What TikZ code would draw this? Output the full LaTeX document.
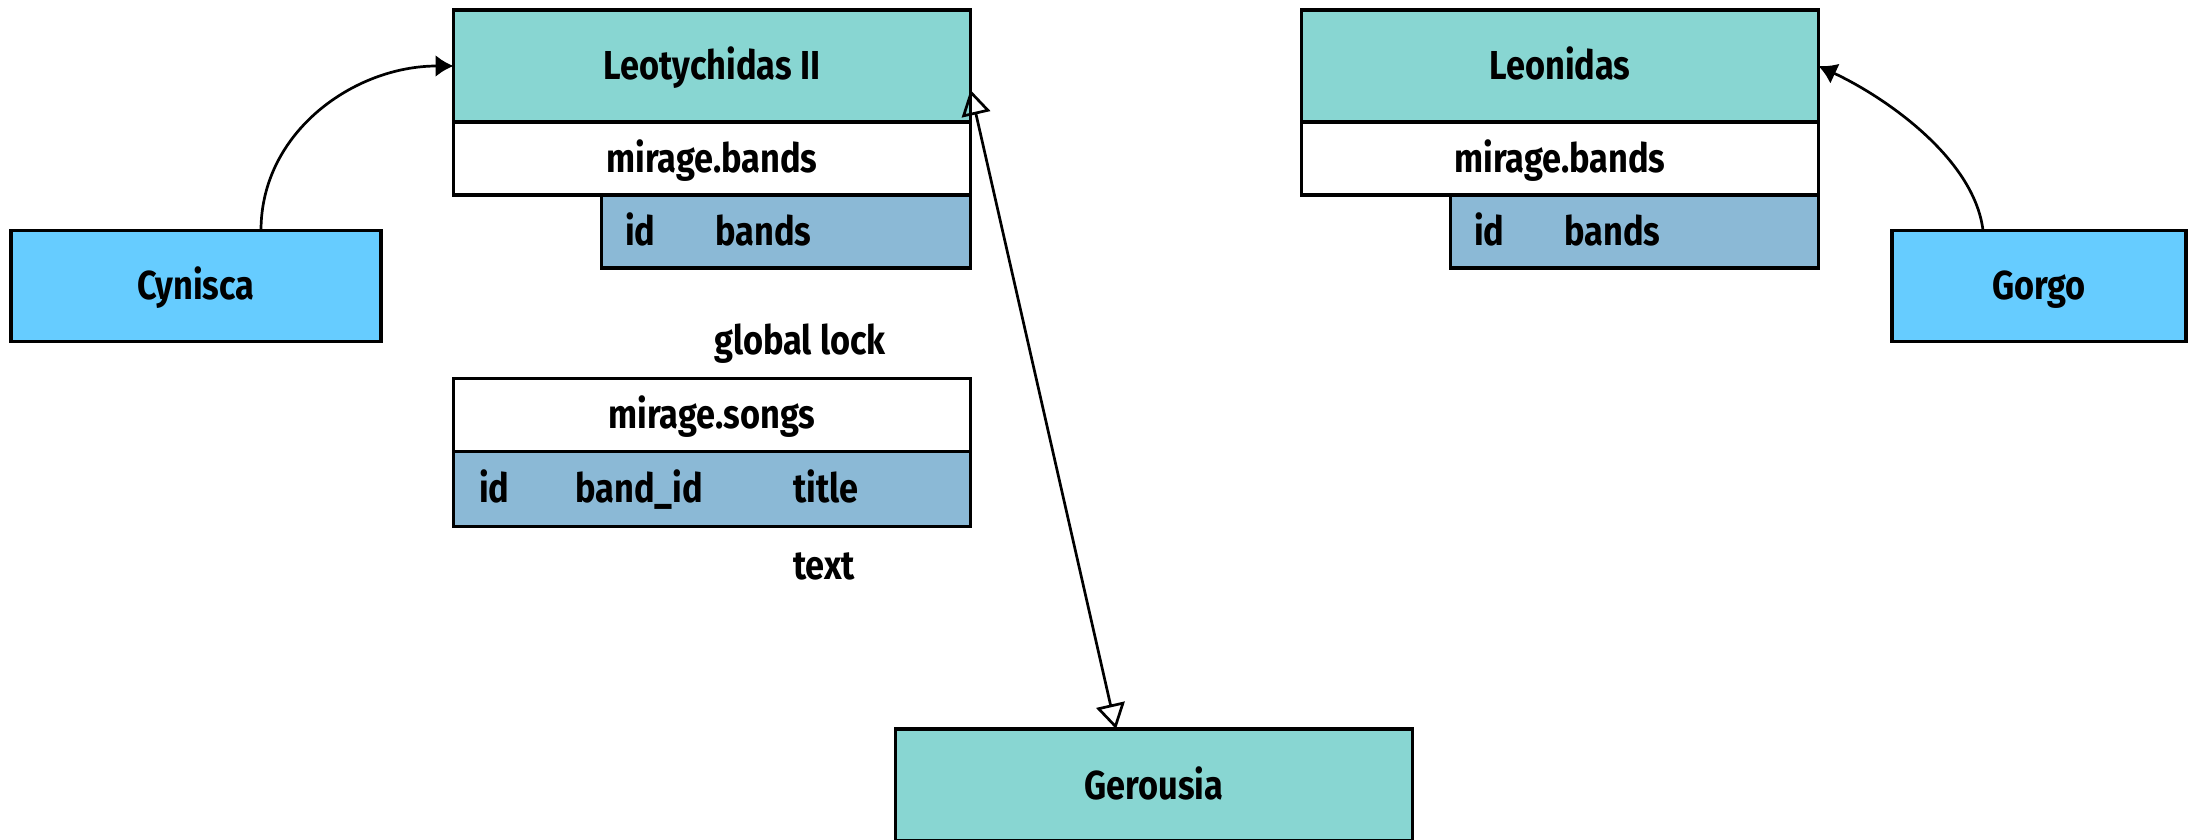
\documentclass[tikz,border=0pt]{standalone}
\usepackage{fontspec}
\setmainfont{Fira Sans}[FakeStretch=0.85]
\usetikzlibrary{positioning,arrows.meta}
\definecolor{tealhead}{HTML}{88D6D2}
\definecolor{fieldblue}{HTML}{8BB9D6}
\definecolor{actorblue}{HTML}{66CCFF}

\begin{document}
\begin{tikzpicture}[
    x=0.1mm, y=-0.1mm,
    every node/.style={font=\fontsize{11.5}{14}\selectfont\bfseries, text height=2.8mm, text depth=0pt},
    box/.style={draw, line width=0.35mm, inner sep=0pt, outer sep=0pt},
    head/.style={box, fill=tealhead, minimum width=51.7mm, minimum height=11.2mm},
    tabname/.style={box, fill=white, minimum width=51.7mm, minimum height=7.3mm},
    fields/.style={box, fill=fieldblue, minimum height=7.3mm},
    actor/.style={box, fill=actorblue, minimum height=11.1mm},
    col/.style={anchor=west, inner sep=0pt},
    link/.style={-{Latex[length=1.8mm,width=2.2mm]}, line width=0.27mm},
    rpc/.style={{Triangle[open,length=2.5mm,width=2.9mm]}-{Triangle[open,length=2.5mm,width=2.9mm]}, line width=0.27mm}
]
\useasboundingbox (0,0) rectangle (2190,840);

% left replica
\node[head] (lhead) at (712,66) {Leotychidas II};
\node[tabname, below=0pt of lhead] (lbands) {mirage.bands};
\node[fields, minimum width=36.9mm, anchor=north east] (lfields) at (lbands.south east) {};
\node[col] (lid) at ([xshift=2.3mm]lfields.west) {id};
\node[col] (lcol) at ([xshift=11.3mm]lfields.west) {bands};

\node (lock) at (800,341) {global lock};
\node[tabname] (lsongs) at (712,415) {mirage.songs};
\node[fields, minimum width=51.7mm, minimum height=7.5mm, below=0pt of lsongs] (sfields) {};
\node[col] (sid) at ([xshift=2.5mm]sfields.west) {id};
\node[col] (sband) at ([xshift=12.1mm]sfields.west) {band\_id};
\node[col] (stitle) at ([xshift=33.9mm]sfields.west) {title};
\node[col] (stext) at ([xshift=33.9mm,yshift=-3.9mm]sfields.south west) {text};

% right replica
\node[head] (rhead) at (1560,66) {Leonidas};
\node[tabname, below=0pt of rhead] (rbands) {mirage.bands};
\node[fields, minimum width=36.8mm, anchor=north east] (rfields) at (rbands.south east) {};
\node[col] (rid) at ([xshift=2.3mm]rfields.west) {id};
\node[col] (rcol) at ([xshift=11.3mm]rfields.west) {bands};

% clients and council
\node[actor, minimum width=37mm] (cynisca) at (196,286) {Cynisca};
\node[actor, minimum width=29.4mm] (gorgo) at (2039,286) {Gorgo};
\node[head, minimum height=11.2mm] (gerousia) at (1154,785) {Gerousia};

\draw[link] ([xshift=6.5mm]cynisca.north) to[out=90,in=180] (lhead.west);
\draw[link] ([xshift=-5.6mm]gorgo.north) to[out=97,in=-25,looseness=0.8] (rhead.east);
\draw[rpc] ([yshift=3.2mm]lhead.south east) -- ([xshift=-3.8mm]gerousia.north);
\end{tikzpicture}
\end{document}
